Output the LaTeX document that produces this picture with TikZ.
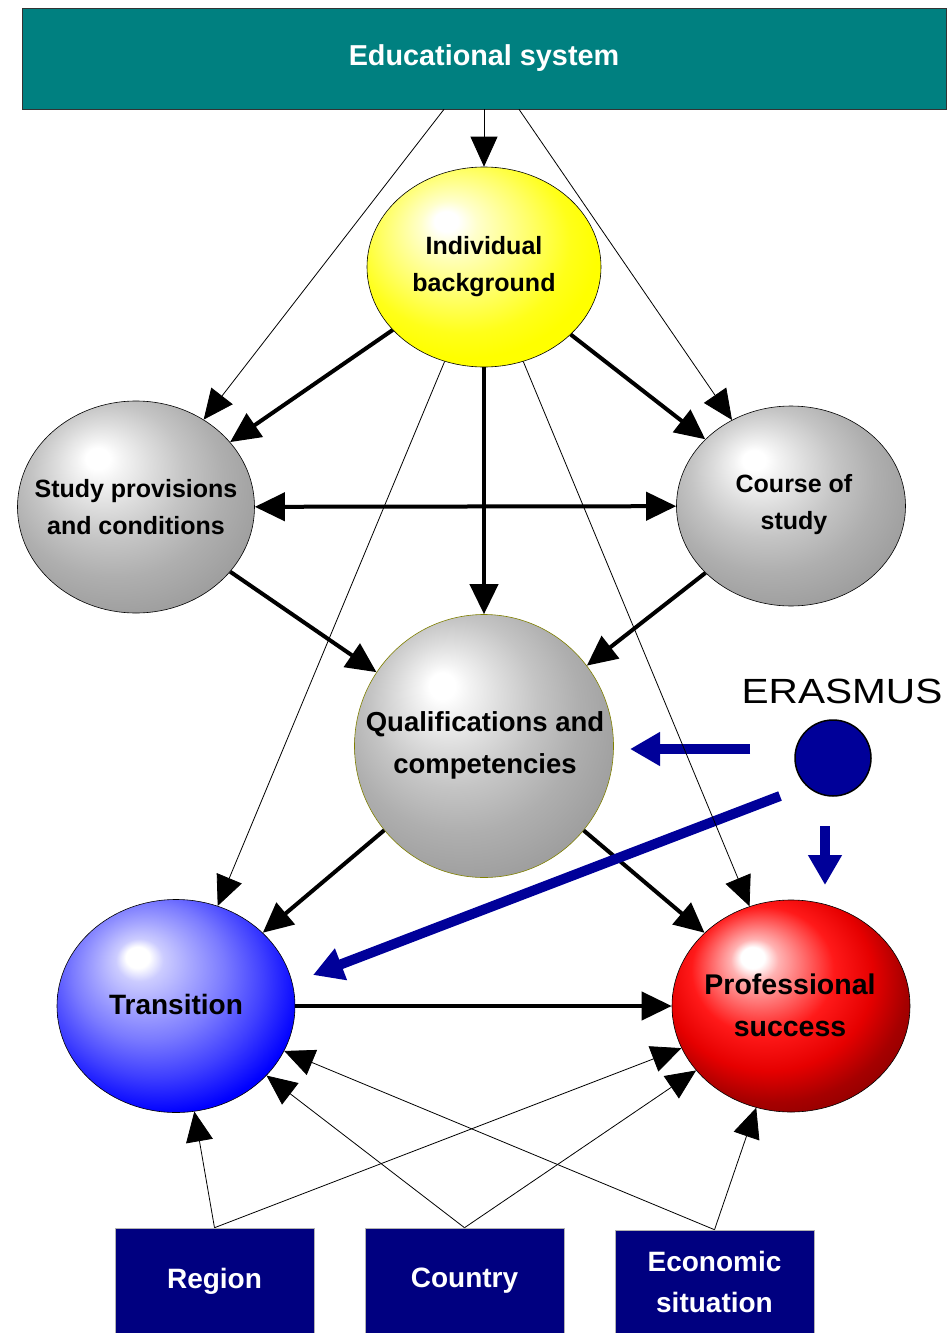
\documentclass[tikz,border=0pt]{standalone}
\usepackage{fontspec}
\usepackage{graphicx}
\setmainfont{Liberation Sans}
\usetikzlibrary{shapes.geometric,arrows.meta}
\definecolor{teal0}{HTML}{008080}
\definecolor{navy0}{HTML}{000080}
\definecolor{eblue}{HTML}{000099}
\definecolor{olive0}{HTML}{808000}
\pgfdeclareradialshading{sphyellow}{\pgfpoint{-8.5bp}{12bp}}{color(0bp)=(white); color(2.5bp)=(white); color(6bp)=(yellow!20); color(11bp)=(yellow!40); color(16bp)=(yellow!60); color(23bp)=(yellow!90); color(28bp)=(yellow); color(50bp)=(yellow)}
\pgfdeclareradialshading{sphgray}{\pgfpoint{-8.5bp}{12bp}}{color(0bp)=(white); color(2.5bp)=(white); color(5bp)=(gray!10); color(10bp)=(gray!27); color(16bp)=(gray!46); color(23bp)=(gray!63); color(30bp)=(gray!75); color(50bp)=(gray!75)}
\pgfdeclareradialshading{sphblue}{\pgfpoint{-8.5bp}{12bp}}{color(0bp)=(white); color(2.5bp)=(white); color(5bp)=(blue!20); color(10bp)=(blue!35); color(16bp)=(blue!52); color(23bp)=(blue!75); color(30bp)=(blue); color(50bp)=(blue)}
\pgfdeclareradialshading{sphred}{\pgfpoint{-8.5bp}{12bp}}{color(0bp)=(white); color(2.5bp)=(white); color(5bp)=(red!30); color(10bp)=(red!60); color(15bp)=(red!90); color(22bp)=(red!90!black); color(28bp)=(red!65!black); color(35bp)=(red!50!black); color(50bp)=(red!50!black)}
\begin{document}
\begin{tikzpicture}[x=1pt,y=-1pt,
  sphere/.style={ellipse, draw=black, line width=0.6pt, inner sep=0pt},
  lbl/.style={align=center, text=black, font=\bfseries\fontsize{25}{37}\selectfont},
  lblbig/.style={align=center, text=black, font=\bfseries\fontsize{27.5}{42}\selectfont},
  botbox/.style={rectangle, draw=gray!60, line width=0.6pt, fill=navy0, text=white, align=center, inner sep=0pt, minimum width=199pt, font=\bfseries\fontsize{28}{41}\selectfont},
  thk/.style={line width=4pt, -{Triangle[length=30pt,width=28pt]}},
  dthk/.style={line width=4pt, {Triangle[length=30pt,width=28pt]}-{Triangle[length=30pt,width=28pt]}},
  thn/.style={line width=0.8pt, -{Triangle[length=30pt,width=27pt]}},
  barrow/.style={line width=10pt, eblue, -{Triangle[length=30pt,width=32pt]}}
]
\useasboundingbox (0,0) rectangle (949,1333);

% header
\node[rectangle, draw=black!80, line width=0.6pt, fill=teal0, minimum width=924pt, minimum height=101pt, inner sep=0pt, text=white, font=\bfseries\fontsize{28.8}{34}\selectfont] (es) at (484,58.5) {Educational system};

% spheres
\node[sphere, shading=sphyellow, minimum width=234pt, minimum height=200pt] (ib) at (484,267) {};
\node[lbl] (ibt) at (ib.center) {Individual\\background};

\node[sphere, shading=sphgray, minimum width=237pt, minimum height=212pt] (sp) at (136,507) {};
\node[lbl] (spt) at (sp.center) {Study provisions\\and conditions};

\node[sphere, shading=sphgray, minimum width=229pt, minimum height=200pt] (cs) at (791,506) {};
\node[lbl] (cst) at (794,505) {Course of\\study};

\node[sphere, draw=olive0, shading=sphgray, minimum width=259pt, minimum height=263pt] (qc) at (484,746) {};
\node[lblbig] (qct) at (485,745) {Qualifications and\\competencies};

\node[sphere, shading=sphblue, minimum width=238pt, minimum height=213pt] (tr) at (176,1006) {};
\node[lblbig, font=\bfseries\fontsize{28}{42}\selectfont] (trt) at (176,1004) {Transition};

\node[sphere, shading=sphred, minimum width=238pt, minimum height=212pt] (ps) at (791,1006) {};
\node[lblbig, font=\bfseries\fontsize{28.5}{42}\selectfont] (pst) at (790,1005) {Professional\\success};

% bottom boxes
\node[botbox, minimum height=106pt] (rg) at (214.5,1281) {Region};
\node[botbox, minimum height=106pt] (co) at (464.5,1281) {Country};
\node[botbox, minimum height=103pt] (ec) at (714.5,1281.5) {Economic\\situation};

% ERASMUS
\node[font=\fontsize{35}{40}\selectfont, inner sep=0pt] (ert) at (842,691) {\scalebox{1.16}[1]{ERASMUS}};
\node[circle, draw=black, line width=1.5pt, fill=eblue, minimum size=76pt, inner sep=0pt] (er) at (833,758) {};

% thick black arrows
\draw[thk] (ib) -- (sp);
\draw[thk] (ib) -- (cs);
\draw[thk] (ib) -- (qc);
\draw[dthk] (sp) -- (cs);
\draw[thk] (sp) -- (qc);
\draw[thk] (cs) -- (qc);
\draw[thk] (qc) -- (tr);
\draw[thk] (qc) -- (ps);
\draw[thk] (tr) -- (ps);

% blue ERASMUS arrows
\coordinate (b1s) at (750,749); \coordinate (b1e) at (630,749);
\coordinate (b2s) at (780,796); \coordinate (b2e) at (313,975);
\coordinate (b3s) at (825,826); \coordinate (b3e) at (825,885);
\draw[barrow] (b1s) -- (b1e);
\draw[barrow] (b2s) -- (b2e);
\draw[barrow] (b3s) -- (b3e);

% thin arrows
\draw[thn] (es.south) -- (ib);
\draw[thn] ([xshift=-40pt]es.south) -- (sp);
\draw[thn] ([xshift=35pt]es.south) -- (cs);
\draw[thn] (ib) -- (tr);
\draw[thn] (ib) -- (ps);
\draw[thn] (rg.north) -- (tr);
\draw[thn] (rg.north) -- (ps);
\draw[thn] (co.north) -- (tr);
\draw[thn] (co.north) -- (ps);
\draw[thn] (ec.north) -- (tr);
\draw[thn] (ec.north) -- (ps);
\end{tikzpicture}
\end{document}
